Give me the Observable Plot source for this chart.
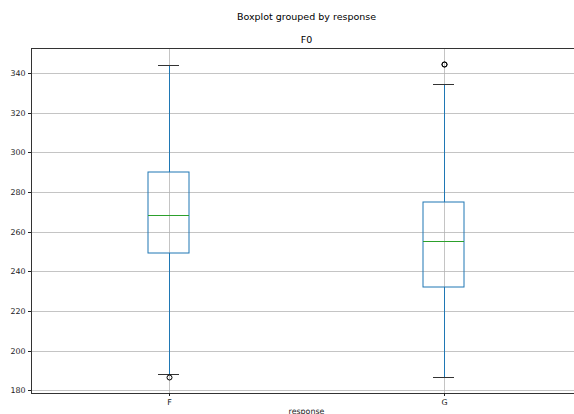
<!DOCTYPE html>
<html><head><meta charset="utf-8">
<script src="https://cdn.jsdelivr.net/npm/d3@7"></script>
<script src="https://cdn.jsdelivr.net/npm/@observablehq/plot@0.6"></script>
<style>
html,body{margin:0;padding:0;background:#fff;overflow:hidden;width:574px;height:414px;}
#wrap{position:relative;width:590px;height:414px;font-family:"DejaVu Sans",sans-serif;}
.ttl{position:absolute;left:0;width:613px;text-align:center;font-size:9.5px;line-height:11px;color:#000;}
#title{top:11px;}
#sub{top:34px;}
#chart svg{display:block;}
</style>
</head><body>
<div id="wrap">
<div id="chart"></div>
<div class="ttl" id="title">Boxplot grouped by response</div>
<div class="ttl" id="sub">F0</div>
</div>
<script>
const categories = ["F", "G"];
const q1 = [249.2, 232.2];
const median = [268.4, 255.1];
const q3 = [289.8, 275.0];
const whiskerLow = [188.5, 186.6];
const whiskerHigh = [344.0, 334.2];
const outliers = [[186.6], [344.2, 344.6]];
const yTicks = [180, 200, 220, 240, 260, 280, 300, 320, 340];

const halfBox = 0.075, halfCap = 0.0375;
const rows = categories.map((c, i) => ({
  cat: c, pos: i + 1,
  q1: q1[i], med: median[i], q3: q3[i], lo: whiskerLow[i], hi: whiskerHigh[i]
}));
const outRows = categories.flatMap((c, i) => outliers[i].map(v => ({cat: c, pos: i + 1, v})));
const positions = rows.map(r => r.pos);

const allVals = rows.flatMap(r => [r.lo, r.hi]).concat(outRows.map(o => o.v));
const vMin = d3.min(allVals), vMax = d3.max(allVals);
const pad = (vMax - vMin) * 0.05;

const blue = "#1f77b4";
const chart = Plot.plot({
  width: 590, height: 414,
  marginTop: 48, marginBottom: 21, marginLeft: 31, marginRight: 9,
  style: {fontFamily: "DejaVu Sans, sans-serif", fontSize: "7.9px", color: "#222", background: "white", overflow: "visible"},
  x: {domain: [0.5, 2.5], axis: null, round: true},
  y: {domain: [vMin - pad, vMax + pad], axis: null, round: true},
  marks: [
    Plot.gridY(yTicks, {stroke: "#b0b0b0", strokeOpacity: 0.75, strokeWidth: 1}),
    Plot.gridX(positions, {stroke: "#b0b0b0", strokeOpacity: 0.75, strokeWidth: 1}),
    Plot.ruleX(rows, {x: "pos", y1: "q3", y2: "hi", stroke: blue, strokeWidth: 1}),
    Plot.ruleX(rows, {x: "pos", y1: "lo", y2: "q1", stroke: blue, strokeWidth: 1}),
    Plot.rect(rows, {x1: d => d.pos - halfBox, x2: d => d.pos + halfBox, y1: "q1", y2: "q3", stroke: blue, fill: "none", strokeWidth: 1}),
    Plot.ruleY(rows, {y: "med", x1: d => d.pos - halfBox, x2: d => d.pos + halfBox, stroke: "#2ca02c", strokeWidth: 1}),
    Plot.ruleY(rows, {y: "hi", x1: d => d.pos - halfCap, x2: d => d.pos + halfCap, stroke: "#333", strokeWidth: 1}),
    Plot.ruleY(rows, {y: "lo", x1: d => d.pos - halfCap, x2: d => d.pos + halfCap, stroke: "#333", strokeWidth: 1}),
    Plot.dot(outRows, {x: "pos", y: "v", r: 2.5, stroke: "#000", fill: "none", strokeWidth: 1}),
    Plot.frame({stroke: "#333", strokeWidth: 1}),
    Plot.axisY(yTicks, {tickSize: 3, tickPadding: 3, label: null}),
    Plot.axisX(positions, {tickFormat: d => categories[d - 1], tickSize: 3, tickPadding: 3,
      label: "response", labelAnchor: "center", labelArrow: "none", labelOffset: 20})
  ]
});
document.getElementById("chart").appendChild(chart);
</script>
</body></html>
